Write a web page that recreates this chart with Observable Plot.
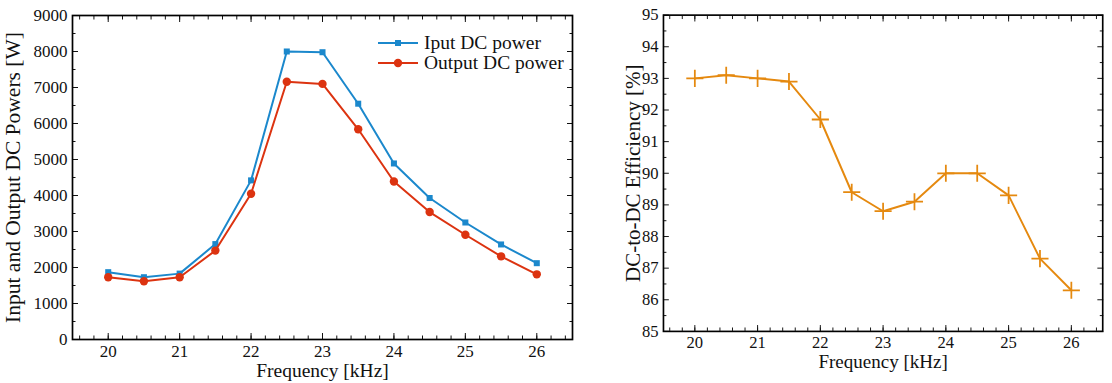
<!DOCTYPE html>
<html>
<head>
<meta charset="utf-8">
<script src="https://cdn.jsdelivr.net/npm/d3@7"></script>
<script src="https://cdn.jsdelivr.net/npm/@observablehq/plot@0.6"></script>
<style>
  html, body { margin: 0; padding: 0; background: #fff; }
  #wrap { position: relative; width: 1112px; height: 383px; overflow: hidden; font-family: "Liberation Serif", "DejaVu Serif", serif; }
  #left { position: absolute; left: 0; top: 0; }
  #right { position: absolute; left: 580px; top: 0; }
  #wrap svg text { font-family: "Liberation Serif", "DejaVu Serif", serif !important; }
  #legend { position: absolute; left: 377px; top: 33px; font-size: 19.5px; color: #111; line-height: 20px; }
  #legend .row { display: flex; align-items: center; height: 20px; }
  #legend svg { margin-right: 5px; }
</style>
</head>
<body>
<div id="wrap">
  <div id="left"></div>
  <div id="right"></div>
  <div id="legend"></div>
</div>
<script>
const frequency = [20, 20.5, 21, 21.5, 22, 22.5, 23, 23.5, 24, 24.5, 25, 25.5, 26];
const inputPower = [1870, 1730, 1830, 2650, 4420, 8000, 7980, 6550, 4890, 3930, 3250, 2640, 2120];
const outputPower = [1730, 1620, 1730, 2470, 4050, 7160, 7100, 5840, 4390, 3540, 2910, 2310, 1810];
const efficiency = [93.0, 93.1, 93.0, 92.9, 91.7, 89.4, 88.8, 89.1, 90.0, 90.0, 89.3, 87.3, 86.3];

const xMajor = [20, 21, 22, 23, 24, 25, 26];
const xMinor = d3.range(19.6, 26.45, 0.2).map(v => +v.toFixed(1));
const powerMajor = d3.range(0, 9001, 1000);
const powerMinor = d3.range(500, 9000, 1000);
const effMajor = d3.range(85, 96, 1);
const effMinor = d3.range(85.5, 95, 1);

const seriesNames = ["Iput DC power", "Output DC power"];
const xLabel = "Frequency [kHz]";
const powerLabel = "Input and Output DC Powers [W]";
const effLabel = "DC-to-DC Efficiency [%]";
const colors = { input: "#1b88cc", output: "#dc3310", eff: "#e5890f" };

const font = "Liberation Serif";

function frameAxes(yMajor, yMinor) {
  const t = {fontFamily: font, fontSize: 17, fill: "#111"};
  return [
    Plot.axisX({anchor: "bottom", ticks: xMinor, tickSize: -3.5, fill: "none", label: null}),
    Plot.axisX({anchor: "top", ticks: xMinor, tickSize: -3.5, fill: "none", label: null}),
    Plot.axisX({anchor: "bottom", ticks: xMajor, tickSize: -6, fill: "none", label: null}),
    Plot.axisX({anchor: "top", ticks: xMajor, tickSize: -6, fill: "none", label: null}),
    Plot.axisX({anchor: "bottom", ticks: xMajor, tickSize: 0, tickPadding: 5, label: null, ...t, tickFormat: d => String(d)}),
    Plot.axisY({anchor: "left", ticks: yMinor, tickSize: -3.5, fill: "none", label: null}),
    Plot.axisY({anchor: "right", ticks: yMinor, tickSize: -3.5, fill: "none", label: null}),
    Plot.axisY({anchor: "left", ticks: yMajor, tickSize: -6, fill: "none", label: null}),
    Plot.axisY({anchor: "right", ticks: yMajor, tickSize: -6, fill: "none", label: null}),
    Plot.axisY({anchor: "left", ticks: yMajor, tickSize: 0, tickPadding: 5, label: null, ...t, tickFormat: d => String(d)}),
    Plot.frame({stroke: "#000", strokeWidth: 1.7})
  ];
}

function labels(yText, yDx) {
  return [
    Plot.text([xLabel], {frameAnchor: "bottom", lineAnchor: "middle", textAnchor: "middle", dy: 31, fontSize: 19.5, fontFamily: font, fill: "#111"}),
    Plot.text([yText], {frameAnchor: "left", lineAnchor: "middle", textAnchor: "middle", dx: yDx, rotate: -90, fontSize: 21.5, fontFamily: font, fill: "#111"})
  ];
}

const powerRows = frequency.map((f, i) => ({f, input: inputPower[i], output: outputPower[i]}));
const effRows = frequency.map((f, i) => ({f, eff: efficiency[i]}));

const baseStyle = {fontFamily: font, fontSize: "17px", color: "#111", background: "transparent", overflow: "visible"};

function fixFonts(svg) {
  d3.select(svg).attr("font-family", font);
  d3.select(svg).selectAll("text").style("font-family", `"${font}", serif`);
  return svg;
}

const left = Plot.plot({
  width: 580, height: 383,
  marginTop: 15, marginLeft: 72, marginRight: 8, marginBottom: 44,
  style: baseStyle,
  x: {domain: [19.5, 26.5]},
  y: {domain: [0, 9000]},
  marks: [
    Plot.line(powerRows, {x: "f", y: "input", stroke: colors.input, strokeWidth: 2}),
    Plot.dot(powerRows, {x: "f", y: "input", symbol: "square", r: 3.4, fill: colors.input}),
    Plot.line(powerRows, {x: "f", y: "output", stroke: colors.output, strokeWidth: 2}),
    Plot.dot(powerRows, {x: "f", y: "output", symbol: "circle", r: 4.2, fill: colors.output}),
    ...frameAxes(powerMajor, powerMinor),
    ...labels(powerLabel, -59)
  ]
});
document.getElementById("left").appendChild(fixFonts(left));

const right = Plot.plot({
  width: 545, height: 383,
  marginTop: 15, marginLeft: 85, marginRight: 10, marginBottom: 44,
  style: baseStyle,
  x: {domain: [19.5, 26.5]},
  y: {domain: [85, 95]},
  marks: [
    Plot.line(effRows, {x: "f", y: "eff", stroke: colors.eff, strokeWidth: 2}),
    Plot.dot(effRows, {x: "f", y: "eff", symbol: "plus", r: 5.7, stroke: colors.eff, strokeWidth: 1.8}),
    ...frameAxes(effMajor, effMinor),
    ...labels(effLabel, -31)
  ]
});
document.getElementById("right").appendChild(fixFonts(right));

// Legend
const legend = document.getElementById("legend");
const legendItems = [
  {name: seriesNames[0], color: colors.input, marker: "square"},
  {name: seriesNames[1], color: colors.output, marker: "circle"}
];
for (const item of legendItems) {
  const row = document.createElement("div");
  row.className = "row";
  const svg = d3.create("svg").attr("width", 42).attr("height", 12);
  svg.append("line").attr("x1", 1).attr("x2", 41).attr("y1", 6).attr("y2", 6).attr("stroke", item.color).attr("stroke-width", 2);
  if (item.marker === "square") {
    svg.append("rect").attr("x", 18).attr("y", 3).attr("width", 6).attr("height", 6).attr("fill", item.color);
  } else {
    svg.append("circle").attr("cx", 21).attr("cy", 6).attr("r", 4.2).attr("fill", item.color);
  }
  row.appendChild(svg.node());
  const span = document.createElement("span");
  span.textContent = item.name;
  row.appendChild(span);
  legend.appendChild(row);
}
</script>
</body>
</html>
